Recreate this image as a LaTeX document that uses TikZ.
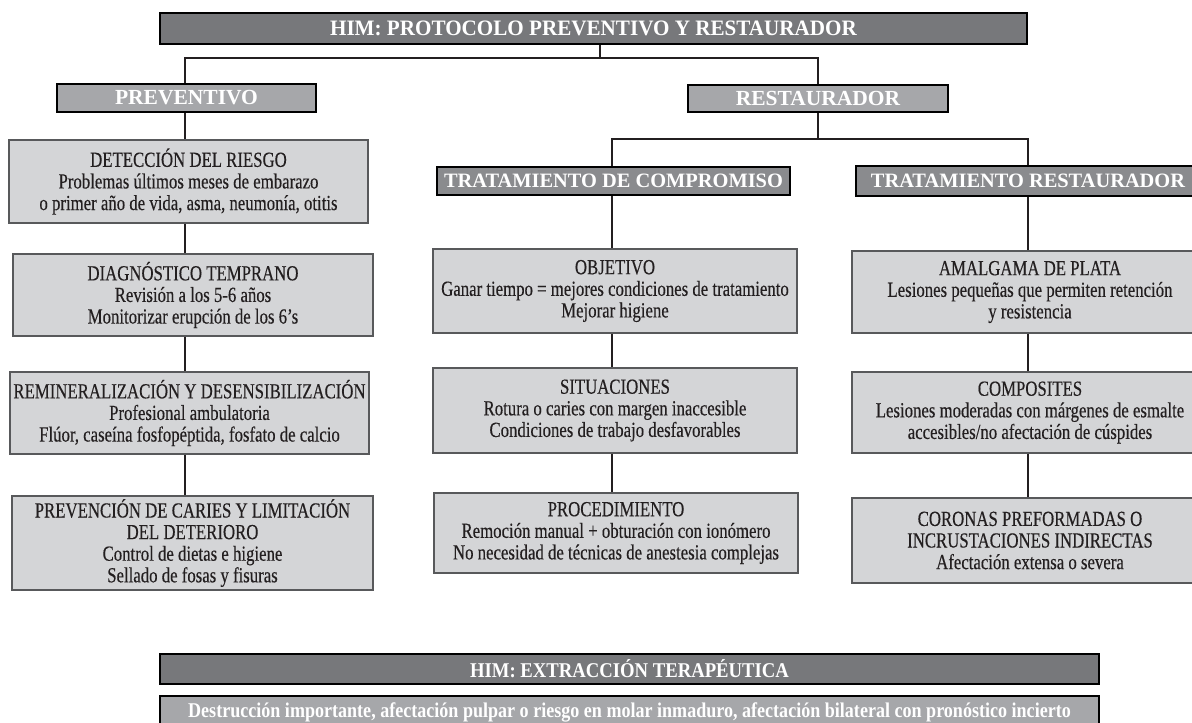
\documentclass[tikz,border=0pt]{standalone}
\usepackage{fontspec}
\setmainfont{Liberation Serif}
\newfontfamily\condfont[FakeStretch=0.78,FakeBold=0.3]{Liberation Serif}
\newfontfamily\topfont[FakeStretch=0.96]{Liberation Serif}
\newfontfamily\extfont[FakeStretch=0.89]{Liberation Serif}
\newfontfamily\descfont[FakeStretch=0.86]{Liberation Serif}
\begin{document}
\begin{tikzpicture}[x=1pt,y=-1pt,
  hdrbase/.style={draw=black, line width=2.8pt, text=white, inner sep=0pt},
  hdrdark/.style={hdrbase, fill=hdrA, font=\topfont\fontsize{22}{24}\selectfont\bfseries},
  hdrlight/.style={hdrbase, fill=hdrB, font=\fontsize{21.5}{23}\selectfont\bfseries},
  hdrmid/.style={hdrbase, fill=hdrC, font=\fontsize{20.4}{22}\selectfont\bfseries},
  cbox/.style={draw=boxline, line width=1.4pt, fill=boxfill, text=txt, inner sep=0pt, align=center, font=\condfont\fontsize{21.5}{21.6}\selectfont},
  conn/.style={draw=txt, line width=2.6pt}
]
\definecolor{hdrA}{HTML}{77787B}
\definecolor{hdrB}{HTML}{A6A7AA}
\definecolor{hdrC}{HTML}{8A8B8E}
\definecolor{boxfill}{HTML}{D4D5D7}
\definecolor{boxline}{HTML}{58595B}
\definecolor{txt}{HTML}{231F20}
\useasboundingbox (0,0) rectangle (1192,723);
\clip (0,0) rectangle (1192,723);

% column coordinates
\coordinate (L) at (185,0);
\coordinate (M) at (612,0);
\coordinate (R) at (1028,0);
\coordinate (T) at (600,0);
\coordinate (S) at (818,0);

% headers
\node[hdrdark, minimum width=867pt, minimum height=31pt] (top) at (593.5,28.5) {HIM: PROTOCOLO PREVENTIVO Y RESTAURADOR};
\node[hdrlight, minimum width=259pt, minimum height=28pt] (prev) at (186.5,98) {PREVENTIVO};
\node[hdrlight, minimum width=260pt, minimum height=27pt] (rest) at (818,98.5) {RESTAURADOR};
\node[hdrmid, minimum width=353pt, minimum height=28pt] (tdc) at (613.5,181) {TRATAMIENTO DE COMPROMISO};
\node[hdrmid, minimum width=344pt, minimum height=30pt] (tr) at (1028,181) {TRATAMIENTO RESTAURADOR};

% left column
\node[cbox, minimum width=359pt, minimum height=83pt] (det) at (188.5,181.5)
 {DETECCIÓN DEL RIESGO\\Problemas últimos meses de embarazo\\o primer año de vida, asma, neumonía, otitis};
\node[cbox, minimum width=360pt, minimum height=82pt] (diag) at (193,295)
 {DIAGNÓSTICO TEMPRANO\\Revisión a los 5-6 años\\Monitorizar erupción de los 6’s};
\node[cbox, minimum width=359pt, minimum height=82pt] (remin) at (189.5,413)
 {REMINERALIZACIÓN Y DESENSIBILIZACIÓN\\Profesional ambulatoria\\Flúor, caseína fosfopéptida, fosfato de calcio};
\node[cbox, minimum width=361pt, minimum height=94pt] (prevc) at (192.5,543)
 {PREVENCIÓN DE CARIES Y LIMITACIÓN\\DEL DETERIORO\\Control de dietas e higiene\\Sellado de fosas y fisuras};

% middle column
\node[cbox, minimum width=364pt, minimum height=84pt] (obj) at (615,291)
 {OBJETIVO\\Ganar tiempo = mejores condiciones de tratamiento\\Mejorar higiene};
\node[cbox, minimum width=364pt, minimum height=85pt] (sit) at (615,410.5)
 {SITUACIONES\\Rotura o caries con margen inaccesible\\Condiciones de trabajo desfavorables};
\node[cbox, minimum width=364pt, minimum height=80pt] (proc) at (616,533)
 {PROCEDIMIENTO\\Remoción manual + obturación con ionómero\\No necesidad de técnicas de anestesia complejas};

% right column
\node[cbox, minimum width=356pt, minimum height=82pt] (amal) at (1030,292)
 {AMALGAMA DE PLATA\\Lesiones pequeñas que permiten retención\\y resistencia};
\node[cbox, minimum width=356pt, minimum height=81pt] (comp) at (1030,412.5)
 {COMPOSITES\\Lesiones moderadas con márgenes de esmalte\\accesibles/no afectación de cúspides};
\node[cbox, minimum width=356pt, minimum height=85pt] (cor) at (1030,540.5)
 {CORONAS PREFORMADAS O\\INCRUSTACIONES INDIRECTAS\\Afectación extensa o severa};

% bottom bars
\node[hdrbase, fill=hdrA, font=\extfont\fontsize{21}{23}\selectfont\bfseries, minimum width=939pt, minimum height=30pt] (ext) at (629.5,669) {HIM: EXTRACCIÓN TERAPÉUTICA};
\node[hdrbase, fill=hdrB, minimum width=939pt, minimum height=34pt,
      font=\descfont\fontsize{21}{23}\selectfont\bfseries] (desc) at (629.5,713)
 {\raisebox{5pt}{Destrucción importante, afectación pulpar o riesgo en molar inmaduro, afectación bilateral con pronóstico incierto}};

% connectors
\coordinate (j1) at (600,58);
\coordinate (j2) at (818,139);
\draw[conn] (top.south -| T) -- (j1);
\draw[conn] (prev.north -| L) |- (j1) -| (rest.north -| S);
\draw[conn] (rest.south -| S) -- (j2);
\draw[conn] (tdc.north -| M) |- (j2) -| (tr.north -| R);

\draw[conn] (prev.south -| L) -- (det.north -| L);
\draw[conn] (det.south -| L) -- (diag.north -| L);
\draw[conn] (diag.south -| L) -- (remin.north -| L);
\draw[conn] (remin.south -| L) -- (prevc.north -| L);

\draw[conn] (tdc.south -| M) -- (obj.north -| M);
\draw[conn] (obj.south -| M) -- (sit.north -| M);
\draw[conn] (sit.south -| M) -- (proc.north -| M);

\draw[conn] (tr.south -| R) -- (amal.north -| R);
\draw[conn] (amal.south -| R) -- (comp.north -| R);
\draw[conn] (comp.south -| R) -- (cor.north -| R);
\end{tikzpicture}
\end{document}
